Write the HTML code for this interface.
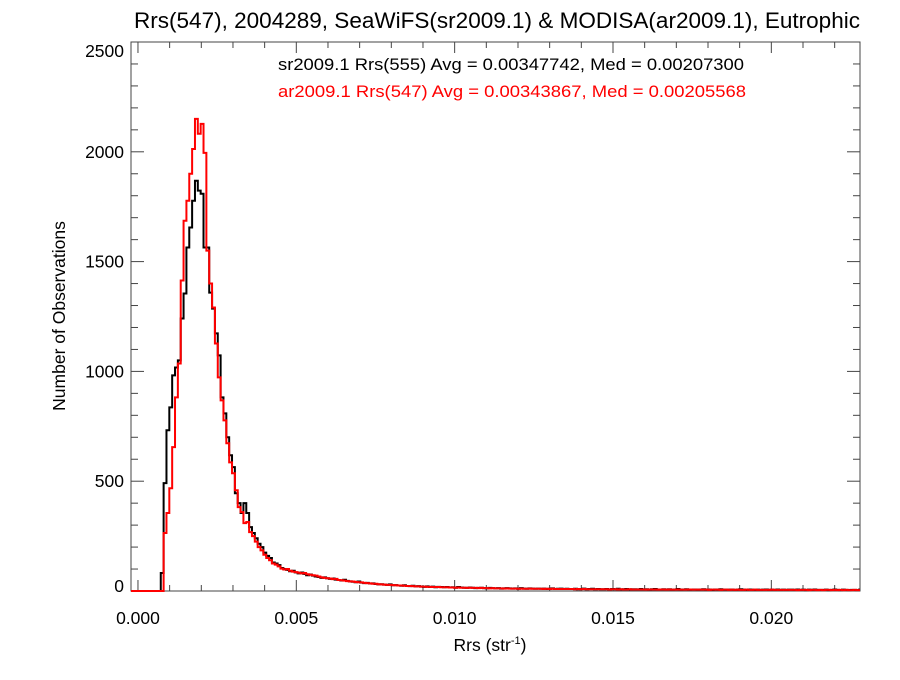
<!DOCTYPE html>
<html><head><meta charset="utf-8"><style>
body{margin:0;background:#fff;}
svg text{font-family:"Liberation Sans",Arial,sans-serif;}
</style></head><body>
<svg id="chart" width="900" height="675" viewBox="0 0 900 675" xmlns="http://www.w3.org/2000/svg">
<text x="497" y="28" font-size="22" text-anchor="middle" textLength="726" lengthAdjust="spacingAndGlyphs">Rrs(547), 2004289, SeaWiFS(sr2009.1) &amp; MODISA(ar2009.1), Eutrophic</text>
<text x="278" y="70" font-size="17" fill="#000" textLength="466" lengthAdjust="spacingAndGlyphs">sr2009.1 Rrs(555) Avg = 0.00347742, Med = 0.00207300</text>
<text x="278" y="97" font-size="17" fill="#ff0000" textLength="468" lengthAdjust="spacingAndGlyphs">ar2009.1 Rrs(547) Avg = 0.00343867, Med = 0.00205568</text>
<text transform="translate(65,316) rotate(-90)" font-size="17.5" text-anchor="middle">Number of Observations</text>
<text x="490" y="651" font-size="17.5" text-anchor="middle">Rrs (str<tspan font-size="11" dy="-7">-1</tspan><tspan dy="7">)</tspan></text>
<g id="axes"></g>
<g id="series"></g>
</svg>
<script>
const xTicksMajor=[0,0.005,0.010,0.015,0.020];
const xTickLabels=["0.000","0.005","0.010","0.015","0.020"];
const yTicksMajor=[0,500,1000,1500,2000,2500];
const yTickLabels=["0","500","1000","1500","2000","2500"];
const binStart=0.00072;
const binWidth=0.00009;
const seawifsCounts=[82,491,732,836,982,1018,1050,1241,1355,1564,1655,1777,1868,1823,1809,1564,1564,1359,1286,1173,1073,882,809,700,618,564,445,400,355,400,355,291,264,
240,215,200,175,160,150,130,125,118,105,100,96,
90,92,85,80,84,78,72,75,70,66,64,
60,62,58,55,57,52,50,48,51,46,44,
42,40,43,38,36,37,34,35,32,30,31,
29,28,30,26,27,25,24,26,23,22,24,
21,22,20,19,21,18,20,17,19,18,17,
18,16,17,15,18,16,15,14,16,15,13,
14,15,13,12,14,13,12,13,11,12,13,
12,11,12,10,13,11,10,12,11,10,11,
10,11,9,10,12,9,10,11,9,10,9,
9,10,8,9,11,8,9,10,8,9,8,
8,9,7,9,8,10,7,8,9,7,8,
8,7,9,7,8,6,8,9,7,7,8,
7,8,6,7,9,6,7,8,6,7,7,
6,7,8,6,7,5,7,6,8,6,6,
6,7,5,6,8,6,5,7,6,5,6,
5,6,7,5,6,5,7,5,6,5,6,
6,5,7,5,6,4,6,5,7,5,5,
5,6,4,5,7,5,4,6,5,4,5,
5,4,6,5,4,5,6,4,5];
const modisaCounts=[0,264,355,468,655,882,1036,1414,1686,1777,1900,2013,2150,2082,2127,1995,1550,1400,1291,1127,973,868,777,673,586,536,459,382,359,309,314,268,250,
225,200,185,165,150,140,125,120,112,102,98,100,
92,88,86,83,80,82,76,74,72,70,66,
62,60,58,57,54,55,50,49,47,45,44,
43,41,40,39,37,36,35,33,33,31,30,
29,28,28,27,26,25,25,24,23,23,22,
21,21,20,20,19,19,18,18,18,17,17,
17,16,16,15,16,15,15,14,15,14,14,
13,14,13,13,12,13,12,12,12,11,12,
11,11,11,10,11,10,10,11,10,10,10,
10,9,10,9,10,9,9,9,9,9,9,
9,8,9,8,9,8,8,8,8,8,8,
8,8,7,8,8,7,8,7,7,8,7,
7,7,7,7,6,7,7,7,6,7,7,
6,7,6,6,7,6,6,6,7,6,6,
6,6,6,6,5,6,6,6,5,6,6,
5,6,5,6,5,5,6,5,5,6,5,
5,5,5,5,6,5,5,5,5,5,5,
5,5,4,5,5,5,4,5,5,4,5,
4,5,5,4,5,4,5,4,5,4,4,
5,4,4,5,4,4,5,4,4];

const L=131,R=860,T=42,B=591;
const xMin=-0.00022,xMax=0.0228,yMin=0,yMax=2500;
const sx=v=>L+(v-xMin)/(xMax-xMin)*(R-L);
const sy=v=>B-(v-yMin)/(yMax-yMin)*(B-T);
const NS="http://www.w3.org/2000/svg";
function mk(tag,attrs,parent){const e=document.createElementNS(NS,tag);for(const k in attrs)e.setAttribute(k,attrs[k]);parent.appendChild(e);return e;}
const axes=document.getElementById('axes');
const frame=mk('rect',{x:L,y:T,width:R-L,height:B-T,fill:'none',stroke:'#444','stroke-width':1},axes);


for(let v=0;v<=xMax+1e-9;v+=0.001){
  const isMaj=Math.abs(Math.round(v/0.005)*0.005-v)<1e-9;
  const len=isMaj?11:6;const x=sx(v);
  const t1=mk('line',{x1:x,x2:x,y1:B,y2:B-len,stroke:'#444'},axes);
  
  
  const t2=mk('line',{x1:x,x2:x,y1:T,y2:T+len,stroke:'#444'},axes);
  
  
}
xTicksMajor.forEach((v,i)=>{
  const t=mk('text',{x:sx(v),y:624,'font-size':17.5,'text-anchor':'middle'},axes);t.textContent=xTickLabels[i];
  
  
});
for(let v=0;v<=yMax;v+=100){
  const isMaj=v%500===0;const len=isMaj?13:7;const y=sy(v);
  const t1=mk('line',{x1:L,x2:L+len,y1:y,y2:y,stroke:'#444'},axes);
  
  
  const t2=mk('line',{x1:R,x2:R-len,y1:y,y2:y,stroke:'#444'},axes);
  
  
}
yTicksMajor.forEach((v,i)=>{
  let y=sy(v)+6; if(v===yMax)y=sy(v)+15; if(v===0)y=sy(v)+1;
  const t=mk('text',{x:124,y:y,'font-size':17.5,'text-anchor':'end'},axes);t.textContent=yTickLabels[i];
  
  
});
const series=document.getElementById('series');
function stepPath(counts){
  let d='M'+L+','+sy(0)+' L'+sx(binStart)+','+sy(0);
  counts.forEach((c,i)=>{
    const x0=sx(binStart+i*binWidth),x1=sx(binStart+(i+1)*binWidth);
    if(x0>=R)return;
    const y=sy(Math.min(c,yMax));
    d+=' L'+x0+','+y+' L'+Math.min(x1,R)+','+y;
  });
  return d;
}
const p1=mk('path',{d:stepPath(seawifsCounts),fill:'none',stroke:'#000','stroke-width':2},series);


const p2=mk('path',{d:stepPath(modisaCounts),fill:'none',stroke:'#ff0000','stroke-width':2},series);


</script>
</body></html>
